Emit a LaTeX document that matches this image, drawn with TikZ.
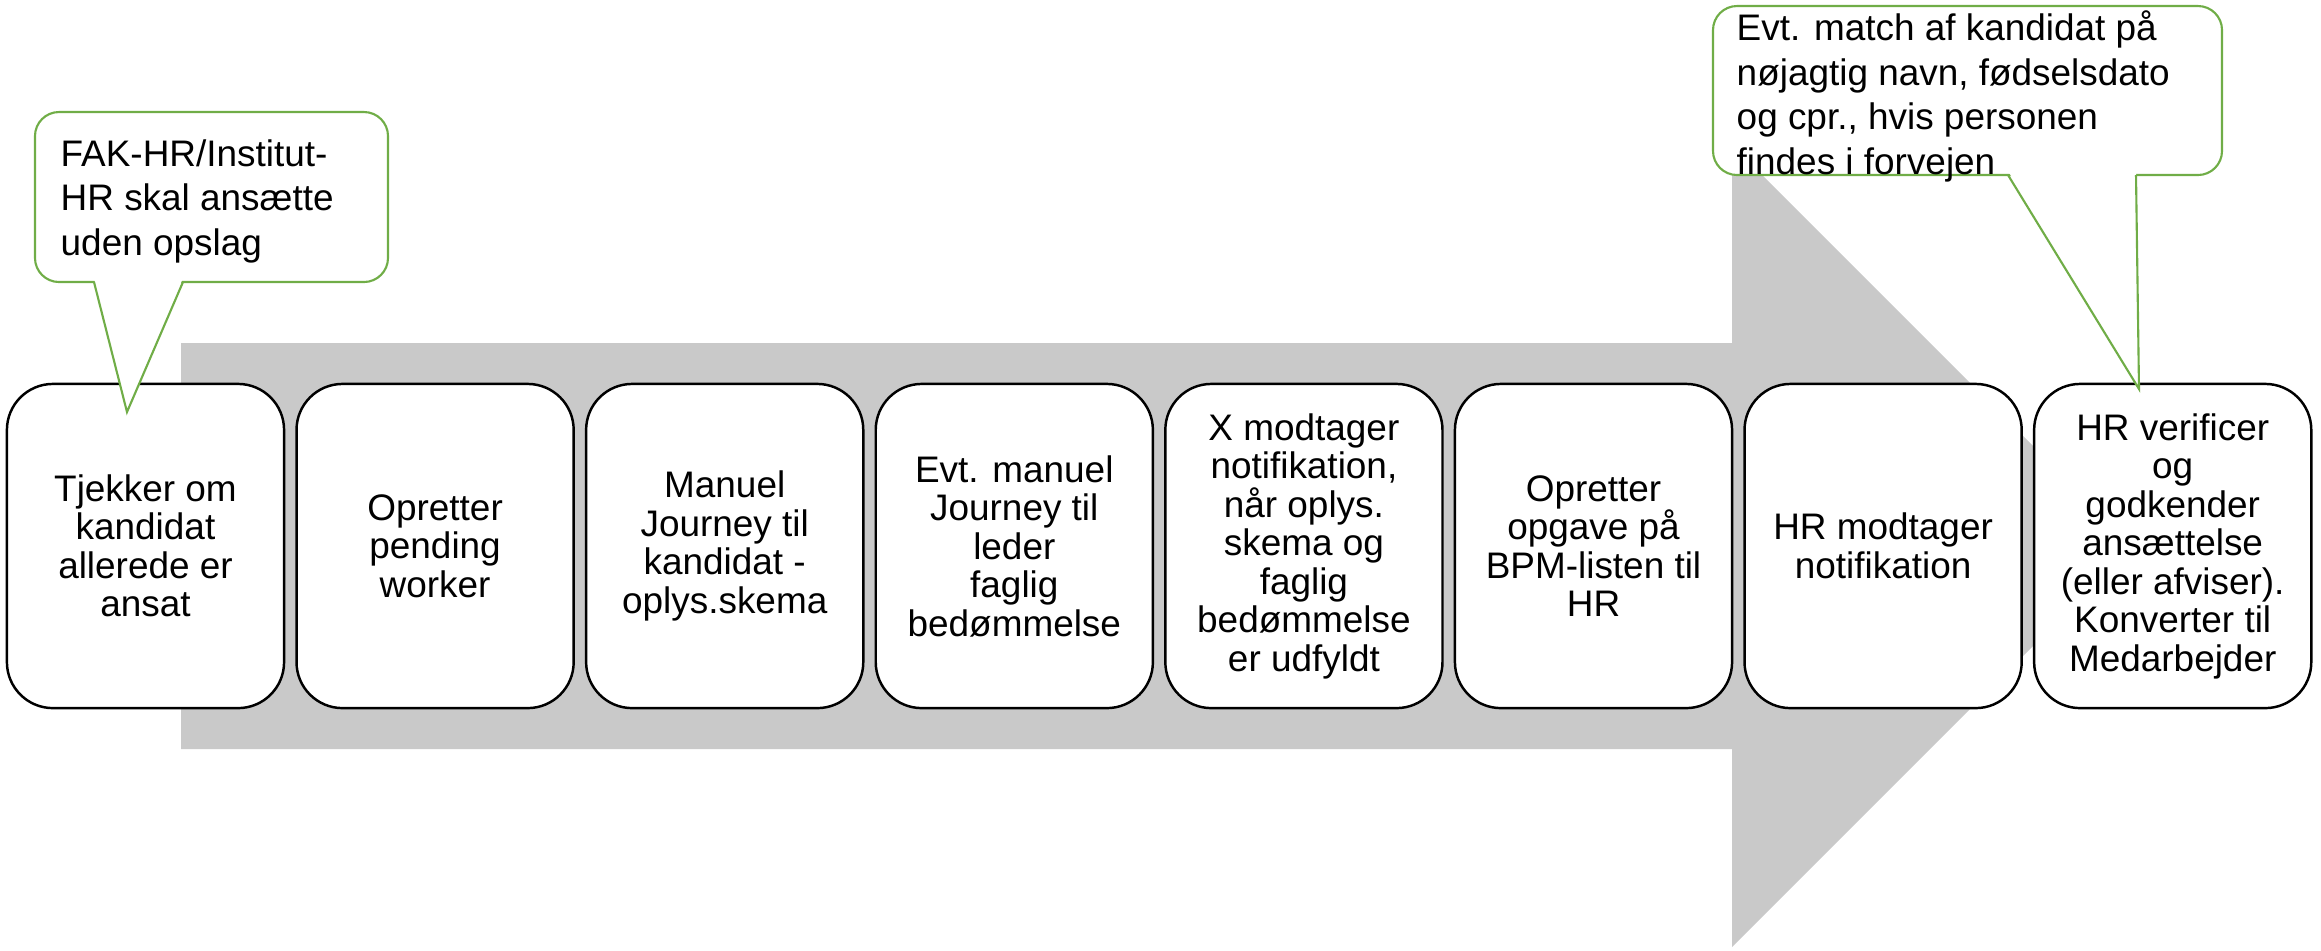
\documentclass[tikz,border=0pt]{standalone}
\usepackage{fontspec}
\setmainfont{Liberation Sans}
\definecolor{arrowgray}{RGB}{201,201,201}
\definecolor{calloutgreen}{RGB}{112,173,71}
\begin{document}
\begin{tikzpicture}[x=0.01cm,y=-0.01cm,
  stepbox/.style={draw=black, line width=0.7pt, fill=white, rounded corners=0.46cm,
    minimum width=2.77cm, minimum height=3.24cm, inner sep=0pt, align=center,
    font=\fontsize{10.5pt}{10.95pt}\selectfont},
  bubble/.style={draw=calloutgreen, line width=0.6pt, fill=white, rounded corners=0.24cm},
  pointer/.style={draw=calloutgreen, line width=0.6pt},
  bubbletext/.style={anchor=north west, inner sep=0pt, align=left,
    font=\fontsize{10.5pt}{12.66pt}\selectfont}]
\useasboundingbox (0,0) rectangle (2321,950);
% big arrow
\fill[arrowgray] (181,343) -- (1732,343) -- (1732,145) -- (2133,546) -- (1732,947) -- (1732,749) -- (181,749) -- cycle;
% steps
\node[stepbox] (b1) at (145.5,546) {Tjekker om\\kandidat\\allerede er\\ansat};
\node[stepbox] (b2) at (435.1,546) {Opretter\\pending\\worker};
\node[stepbox] (b3) at (724.7,546) {Manuel\\Journey til\\kandidat -\\oplys.skema};
\node[stepbox] (b4) at (1014.3,546) {Evt. manuel\\Journey til\\leder\\faglig\\bedømmelse};
\node[stepbox] (b5) at (1303.9,546) {X modtager\\notifikation,\\når oplys.\\skema og\\faglig\\bedømmelse\\er udfyldt};
\node[stepbox] (b6) at (1593.5,546) {Opretter\\opgave på\\BPM-listen til\\HR};
\node[stepbox] (b7) at (1883.1,546) {HR modtager\\notifikation};
\node[stepbox] (b8) at (2172.7,546) {HR verificer\\og\\godkender\\ansættelse\\(eller afviser).\\Konverter til\\Medarbejder};
% left callout
\coordinate (lA) at (94,282);
\coordinate (lTip) at (127,412);
\coordinate (lB) at (183,282);
\draw[bubble] (35,112) rectangle (388,282);
\fill[white] (94,278) -- (lTip) -- (183,278) -- cycle;
\draw[pointer] (lA) -- (lTip) -- (lB);
\node[bubbletext] (t1) at (60,139) {FAK-HR/Institut-\\HR skal ansætte\\uden opslag};
% right callout
\coordinate (rA) at (2008,175);
\coordinate (rTip) at (2139,389);
\coordinate (rB) at (2136,175);
\draw[bubble] (1713,6) rectangle (2222,175);
\fill[white] (2008,171) -- (rTip) -- (2136,171) -- cycle;
\draw[pointer] (rA) -- (rTip) -- (rB);
\node[bubbletext] (t2) at (1736,10) {Evt. match af kandidat på\\nøjagtig navn, fødselsdato\\og cpr., hvis personen\\findes i forvejen};
\end{tikzpicture}
\end{document}
